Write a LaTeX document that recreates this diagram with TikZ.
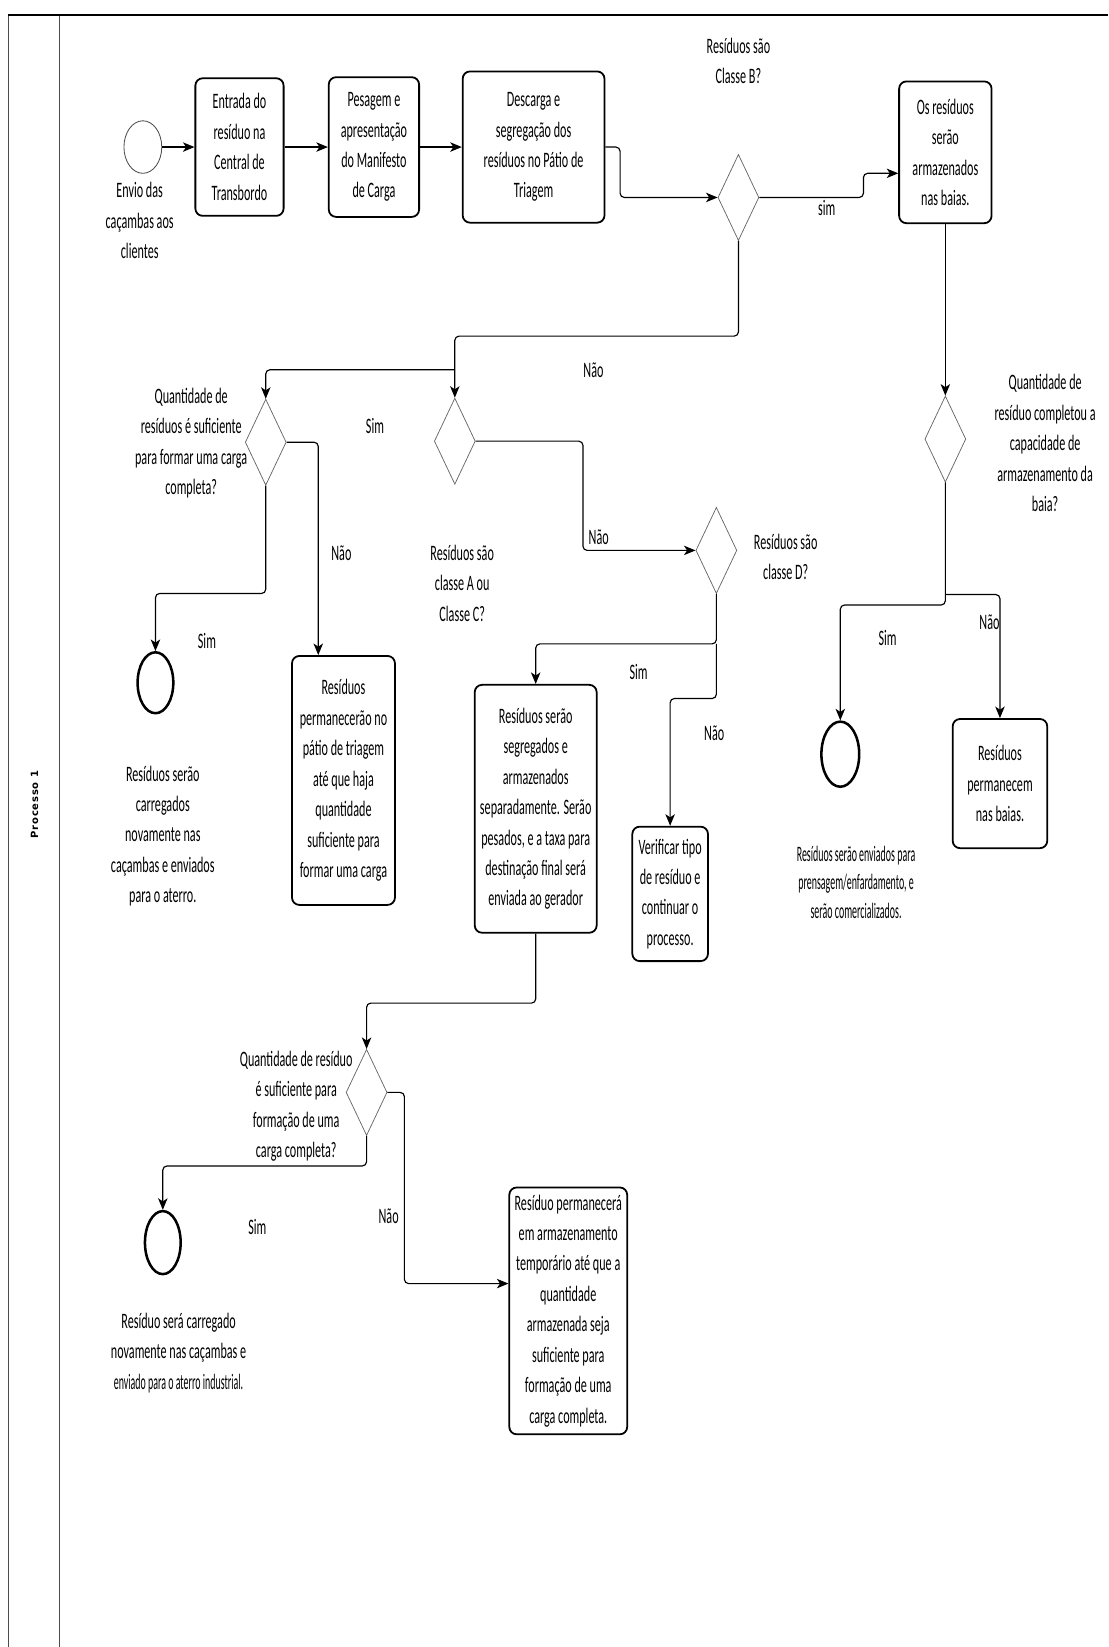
\documentclass[tikz,border=0pt]{standalone}
\usepackage{fontspec}
\setmainfont{Carlito}[FakeStretch=0.55]
\newfontfamily\narrowfont{Carlito}[FakeStretch=0.45]
\newfontfamily\procfont{DejaVu Sans}[LetterSpace=8]
\usetikzlibrary{shapes.geometric,arrows.meta}
\newcommand{\txt}{\fontsize{21}{29}\selectfont}
\newcommand{\ntxt}{\narrowfont\fontsize{21}{27}\selectfont}
\tikzset{
  box/.style={draw, line width=1.7pt, rounded corners=7pt, align=center, inner xsep=5pt, inner ysep=2pt, font=\txt},
  dia/.style={diamond, draw=black!60, line width=0.7pt, minimum width=39pt, minimum height=82pt, inner sep=0pt},
  startev/.style={ellipse, draw=black!70, line width=0.8pt, minimum width=36pt, minimum height=50pt, inner sep=0pt},
  endev/.style={ellipse, draw, line width=2.4pt, minimum width=34pt, minimum height=58pt, inner sep=0pt},
  conn/.style={draw, line width=1.1pt, rounded corners=4pt, -{Stealth[length=11pt,width=9pt,inset=3pt]}},
  lbl/.style={align=center, font=\txt, inner sep=0pt},
  frame/.style={draw=black!70, line width=0.8pt}
}
\begin{document}
\begin{tikzpicture}[x=1pt,y=-1pt]
\useasboundingbox (0,0) rectangle (1055,1568);
% frame
\draw[frame] (8,14) -- (8,1568);
\draw[frame] (57,14) -- (57,1568);
\draw[line width=2pt] (8,14) -- (1055,14);
\node[rotate=90, font=\procfont\bfseries\fontsize{9.5}{11}\selectfont] (proc) at (33,766) {Processo 1};

% top row
\node[startev] (start) at (136,140) {};
\node[lbl] (lstart) at (133,210) {Envio das\\caçambas aos\\clientes};
\node[box, minimum width=84pt, minimum height=131pt] (b1) at (228,140) {Entrada do\\resíduo na\\Central de\\Transbordo};
\node[box, minimum width=86pt, minimum height=133pt] (b2) at (356,140) {Pesagem e\\apresentação\\do Manifesto\\de Carga};
\node[box, minimum width=135pt, minimum height=144pt] (b3) at (508,140) {Descarga e\\segregação dos\\resíduos no Pátio de\\Triagem};
\node[dia] (d1) at (703,188) {};
\node[lbl] (ld1) at (703,58) {Resíduos são\\Classe B?};
\node[box, minimum width=88pt, minimum height=135pt] (b4) at (900,145) {Os resíduos\\serão\\armazenados\\nas baias.};

% second level
\node[dia] (d2) at (253,421) {};
\node[lbl] (ld2) at (182,422) {Quantidade de\\resíduos é suficiente\\para formar uma carga\\completa?};
\node[dia] (d3) at (433,420) {};
\node[lbl] (ld3) at (440,555) {Resíduos são\\classe A ou\\Classe C?};
\node[dia] (dD) at (682,524) {};
\node[lbl] (ldD) at (748,530) {Resíduos são\\classe D?};
\node[dia] (d4) at (900,418) {};
\node[lbl] (ld4) at (995,422) {Quantidade de\\resíduo completou a\\capacidade de\\armazenamento da\\baia?};

% third level
\node[endev] (e1) at (148,650) {};
\node[lbl] (le1) at (155,796) {Resíduos serão\\carregados\\novamente nas\\caçambas e enviados\\para o aterro.};
\node[box, minimum width=98pt, minimum height=237pt] (b5) at (327,743) {Resíduos\\permanecerão no\\pátio de triagem\\até que haja\\quantidade\\suficiente para\\formar uma carga};
\node[box, minimum width=101pt, minimum height=236pt] (b6) at (510,770) {Resíduos serão\\segregados e\\armazenados\\separadamente. Serão\\pesados, e a taxa para\\destinação final será\\enviada ao gerador};
\node[box, minimum width=72pt, minimum height=128pt] (b7) at (638,851) {Verificar tipo\\de resíduo e\\continuar o\\processo.};
\node[endev, minimum width=36pt, minimum height=62pt] (e2) at (800,718) {};
\node[lbl, font=\ntxt] (le2) at (815,840) {Resíduos serão enviados para\\prensagem/enfardamento, e\\serão comercializados.};
\node[box, minimum width=90pt, minimum height=123pt] (b8) at (952,746) {Resíduos\\permanecem\\nas baias.};

% bottom
\node[dia] (d5) at (349,1040) {};
\node[lbl] (ld5) at (282,1053) {Quantidade de resíduo\\é suficiente para\\formação de uma\\carga completa?};
\node[endev, minimum height=60pt] (e3) at (155,1183) {};
\node[lbl] (le3) at (170,1288) {Resíduo será carregado\\novamente nas caçambas e\\{\ntxt enviado para o aterro industrial.}};
\node[box, minimum width=102pt, minimum height=235pt] (b9) at (541,1248) {Resíduo permanecerá\\em armazenamento\\temporário até que a\\quantidade\\armazenada seja\\suficiente para\\formação de uma\\carga completa.};

% junctions
\coordinate (j1) at (433,352);
\coordinate (j2) at (900,566);
\coordinate (j3) at (682,613);

% connectors
\draw[conn] (start.east) -- (b1.west);
\draw[conn] (b1.east) -- (b2.west);
\draw[conn] (b2.east) -- (b3.west);
\draw[conn] (b3.east) -- ++(14,0) |- (d1.west);
\draw[conn] (d1.east) -- (822,188) |- ([yshift=-20pt]b4.west);
\draw[conn] (d1.south) -- (703,320) -| (d3.north);
\draw[conn] (j1) -| (d2.north);
\draw[conn] (d2.east) -| ([xshift=-24pt]b5.north);
\draw[conn] (d2.south) -- (253,565) -| (e1.north);
\draw[conn] (d3.east) -- (555,420) |- (dD.west);
\draw[conn] (dD.south) -- (j3) -| (b6.north);
\draw[conn] (j3) -- (682,665) -| (b7.north);
\draw[conn] (b4.south) -- (d4.north);
\draw[conn] (d4.south) -- (900,576) -| (e2.north);
\draw[conn] (j2) -| (b8.north);
\draw[conn] (b6.south) -- (510,955) -| (d5.north);
\draw[conn] (d5.south) -- (349,1110) -| (e3.north);
\draw[conn] (d5.east) -- (385,1040) |- ([yshift=26pt]b9.west);

% edge labels
\node[lbl] (t1) at (787,198) {sim};
\node[lbl] (t2) at (565,352) {Não};
\node[lbl] (t3) at (357,406) {Sim};
\node[lbl] (t4) at (325,527) {Não};
\node[lbl] (t5) at (197,610) {Sim};
\node[lbl] (t6) at (570,511) {Não};
\node[lbl] (t7) at (608,640) {Sim};
\node[lbl] (t8) at (680,698) {Não};
\node[lbl] (t9) at (845,607) {Sim};
\node[lbl] (t10) at (942,592) {Não};
\node[lbl] (t11) at (245,1168) {Sim};
\node[lbl] (t12) at (370,1158) {Não};
\end{tikzpicture}
\end{document}
